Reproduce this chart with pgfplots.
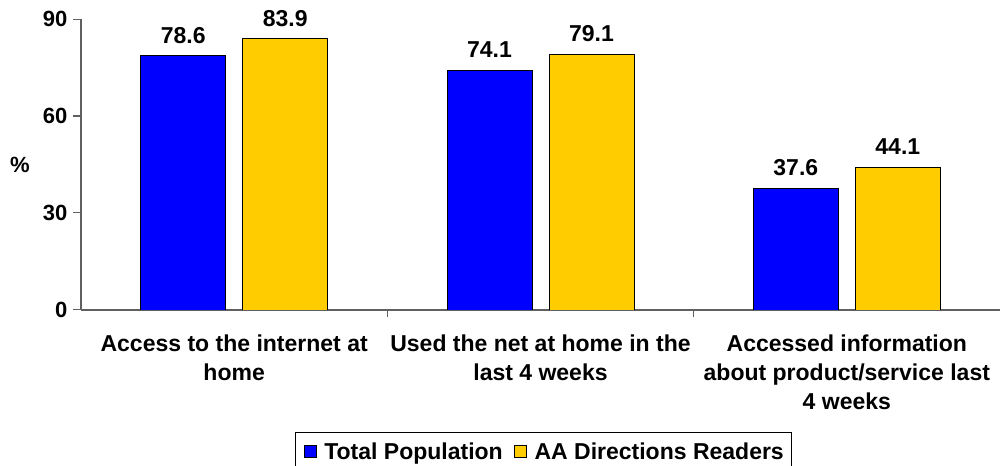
\documentclass[border=0pt]{standalone}
\usepackage{pgfplots}
\pgfplotsset{compat=1.18}
\usepackage{fontspec}
\setmainfont{Liberation Sans}
\definecolor{cblue}{RGB}{0,0,255}
\definecolor{cyellow}{RGB}{255,204,0}
\definecolor{axgray}{RGB}{96,96,96}
\begin{document}
\begin{tikzpicture}[font=\fontsize{23}{29}\selectfont\bfseries]
\begin{axis}[
  scale only axis, width=919pt, height=291pt,
  xmin=-0.5, xmax=2.5, ymin=0, ymax=90,
  ybar=17pt, bar width=85pt,
  axis x line*=bottom, axis y line*=left,
  axis line style={axgray, line width=1.2pt},
  ytick={0,30,60,90},
  xtick={0,1,2},
  xticklabels={{Access to the internet at\\home},{Used the net at home in the\\last 4 weeks},{Accessed information\\about product/service last\\4 weeks}},
  minor xtick={0.5,1.5},
  major x tick style={draw=none},
  tick align=outside,
  major tick length=8pt, minor tick length=7pt,
  tick style={axgray, line width=1pt},
  xticklabel style={align=center, anchor=north, yshift=-13pt, font=\fontsize{23}{29}\selectfont\bfseries},
  yticklabel style={font=\fontsize{22}{28}\selectfont\bfseries, xshift=-2pt},
  /pgf/number format/assume math mode=true,
  ylabel={\%},
  y label style={at={(axis description cs:-0.0664,0.5)}, anchor=center, rotate=-90, font=\fontsize{22}{28}\selectfont\bfseries},
  nodes near coords,
  nodes near coords style={anchor=base, inner sep=0pt, yshift=12.5pt, font=\fontsize{23}{28}\selectfont\bfseries, /pgf/number format/.cd, fixed, precision=1, fixed zerofill, assume math mode=true},
  legend columns=-1,
  legend style={at={(axis description cs:0.2329,-0.4192)}, anchor=north west,
    draw=black, line width=1pt, inner xsep=8pt, inner ysep=8pt,
    font=\fontsize{23}{28}\selectfont\bfseries,
    nodes={inner xsep=0pt, inner ysep=2pt},
    /tikz/every odd column/.append style={column sep=8pt},
    /tikz/every even column/.append style={column sep=11pt}},
  legend image code/.code={\draw[#1, draw=black, line width=0.8pt] (0pt,-6pt) rectangle (12pt,6pt);},
]
\addplot[fill=cblue, draw=black, line width=0.8pt] coordinates {(0,78.6) (1,74.1) (2,37.6)};
\addplot[fill=cyellow, draw=black, line width=0.8pt] coordinates {(0,83.9) (1,79.1) (2,44.1)};
\legend{Total Population, AA Directions Readers}
\coordinate (O) at (rel axis cs:0,0);
\coordinate (T) at (rel axis cs:1,1);
\end{axis}
\pgfresetboundingbox
\path[use as bounding box] ([xshift=-81pt,yshift=-156pt]O) rectangle ([yshift=19pt]T);
\end{tikzpicture}
\end{document}
